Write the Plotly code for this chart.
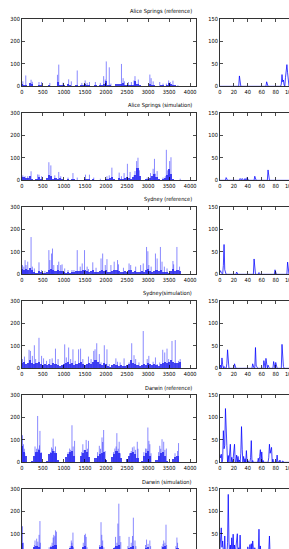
import plotly.graph_objects as go

# ---------------- data ----------------
# Left panels: daily rainfall (mm) over ~3800 days; isolated spikes (day, mm)
as_ref_spikes = [(25,22),(94,48),(220,29),(250,20),(408,19),(470,19),(666,15),(847,51),(878,96),(980,16),
                 (1113,31),(1176,22),(1317,70),(1427,15),(1505,26),(1552,15),(1607,19),(1748,19),(1866,15),(1944,45),
                 (1983,30),(2007,110),(2078,84),(2117,12),(2368,99),(2407,36),(2438,22),(2532,19),(2603,19),(2666,26),
                 (2689,45),(2705,19),(2768,30),(3042,52),(3073,36),(3120,22),(3277,19),(3356,12),(3434,12),(3489,26),
                 (3528,19),(3591,25),(3708,5)]
as_sim_spikes = [(24,22),(78,18),(141,18),(220,40),(376,26),(408,25),(470,18),(643,80),(690,66),(706,15),
                 (784,22),(878,37),(925,18),(1098,12),(1215,32),(1317,12),(1513,25),(1607,25),(1709,12),(1866,7),
                 (2023,18),(2078,22),(2140,56),(2313,34),(2368,18),(2430,32),(2509,73),(2572,37),(2666,22),(2689,41),
                 (2728,85),(2760,100),(2791,44),(2979,12),(3058,32),(3120,51),(3152,95),(3175,29),(3215,41),(3356,12),
                 (3410,18),(3434,135),(3466,44),(3489,29),(3512,85),(3544,102),(3763,7)]
syd_ref_spikes = [(16,41),(47,34),(78,63),(102,41),(141,56),(220,165),(251,34),(298,26),(408,53),(470,19),
                  (549,15),(643,107),(666,63),(706,92),(729,114),(760,41),(847,41),(878,56),(925,41),(957,44),
                  (1019,26),(1098,19),(1192,19),(1239,19),(1317,107),(1388,34),(1435,48),(1490,107),(1552,34),(1584,23),
                  (1686,53),(1764,29),(1882,70),(1921,92),(1983,41),(2023,67),(2117,41),(2195,56),(2274,63),(2297,44),
                  (2415,29),(2548,48),(2587,41),(2705,34),(2823,41),(2885,48),(2964,121),(2995,102),(3018,41),(3073,34),
                  (3175,92),(3215,70),(3293,121),(3332,56),(3387,34),(3450,26),(3591,59),(3607,44),(3685,121),(3748,34)]
syd_sim_spikes = [(16,41),(63,52),(172,82),(204,77),(251,55),(298,102),(329,41),(408,135),(470,55),(517,44),
                  (588,33),(666,41),(721,44),(800,87),(862,41),(980,15),(1019,106),(1058,48),(1113,92),(1160,41),
                  (1215,84),(1270,33),(1349,84),(1396,87),(1450,41),(1584,52),(1646,41),(1709,77),(1740,84),(1780,111),
                  (1842,63),(1882,26),(1960,102),(2023,84),(2078,19),(2235,44),(2274,29),(2336,26),(2430,44),(2548,26),
                  (2611,111),(2666,58),(2705,41),(2783,26),(2885,165),(2979,41),(3018,55),(3120,29),(3175,48),(3215,19),
                  (3277,26),(3348,82),(3395,70),(3450,87),(3489,41),(3568,121),(3646,125),(3724,33),(3763,41)]
dar_ref_spikes = [(16,120),(40,80),(60,60),(70,40),(314,70),(330,40),(350,60),(376,205),(400,60),(420,75),
                  (431,139),(460,45),(680,45),(706,66),(730,60),(745,105),(780,50),(800,70),(820,40),(1100,45),
                  (1137,61),(1160,55),(1192,164),(1220,70),(1254,95),(1420,45),(1450,80),(1480,55),(1529,99),(1560,60),
                  (1584,95),(1800,45),(1842,73),(1870,60),(1905,110),(1920,90),(1944,143),(1980,50),(2180,45),(2211,61),
                  (2240,70),(2258,129),(2290,60),(2313,91),(2340,40),(2560,40),(2600,50),(2627,66),(2666,70),(2700,55),
                  (2744,91),(2760,60),(2900,45),(2940,61),(2970,60),(2995,154),(3020,95),(3042,80),(3070,40),(3250,45),
                  (3277,73),(3300,60),(3332,102),(3371,91),(3400,55),(3434,61),(3640,40),(3700,50),(3724,85)]
dar_sim_spikes = [(16,133),(40,60),(300,50),(314,70),(353,78),(380,65),(410,95),(431,156),(440,60),(650,40),
                  (690,47),(720,60),(745,83),(760,95),(784,89),(800,115),(823,109),(1150,45),(1176,70),(1190,60),
                  (1215,105),(1230,40),(1460,60),(1490,94),(1510,100),(1529,86),(1550,40),(1850,50),(1882,151),(1900,95),
                  (1921,70),(1950,40),(2200,40),(2227,86),(2260,60),(2282,145),(2305,233),(2330,90),(2352,63),(2520,45),
                  (2548,86),(2600,60),(2630,90),(2650,171),(2689,70),(2710,45),(2940,50),(2964,74),(3000,55),(3042,70),
                  (3060,45),(3330,45),(3356,55),(3371,70),(3400,60),(3426,140),(3440,50),(3660,45),(3685,83),(3700,60)]

# Dense low-rain band height (mm), one value per 50-day block starting at day 0
LOW_STEP = 50
as_ref_low = [10,8,5,3,15,12,2,3,8,5,2,2,3,6,2,2,3,20,8,4,6,3,10,6,3,2,5,3,4,6,10,8,5,2,3,4,2,4,6,10,
              25,8,4,2,3,12,12,12,15,6,5,4,5,8,25,10,4,2,2,3,3,10,8,4,2,3,5,4,3,6,15,10,8,4,3,2,0]
as_sim_low = [15,15,12,10,20,5,3,8,15,8,3,2,10,25,20,8,10,8,10,5,3,3,5,3,8,5,3,2,2,3,8,5,8,3,5,2,2,3,2,3,
              5,8,10,15,5,3,10,8,5,10,15,10,8,15,25,55,20,3,3,5,5,10,20,30,15,5,3,5,10,25,50,30,5,3,2,3,0]
syd_ref_low = [25,20,25,20,30,20,10,8,15,10,5,8,12,20,25,20,15,20,15,15,10,8,12,8,10,12,15,15,15,20,
               20,15,12,15,20,12,10,15,20,15,18,10,12,15,20,20,15,10,12,15,12,20,18,12,15,10,12,15,10,20,
               25,15,10,15,20,15,20,12,10,10,8,15,25,15,20,15,0]
syd_sim_low = [25,30,20,25,35,25,20,25,30,20,15,20,15,20,15,25,20,15,10,15,20,25,30,20,25,15,20,25,30,20,
               15,20,25,20,30,35,30,20,15,25,20,10,8,15,20,15,12,15,10,12,15,20,35,25,20,15,10,15,20,15,
               25,20,15,20,15,12,20,25,30,25,30,35,30,25,25,30,0]
dar_ref_low = [70,45,30,0,0,5,30,45,55,40,0,0,5,35,40,50,40,10,0,0,0,25,35,45,50,30,0,0,30,40,
               55,45,25,0,0,20,30,35,40,45,10,0,0,25,35,50,40,20,0,0,15,30,40,45,35,20,0,5,30,40,
               50,30,0,0,10,30,40,45,30,5,0,0,15,25,30,0,0]
dar_sim_low = [60,30,5,0,0,10,40,45,40,20,0,0,10,30,40,45,50,10,0,0,15,25,30,35,45,10,0,5,30,40,
               45,30,5,0,0,10,30,40,45,30,0,0,5,25,35,45,50,30,0,0,20,35,40,45,30,5,0,0,25,35,
               40,30,5,0,0,10,30,40,45,25,0,0,10,30,35,5,0]

# Right panels: first days of each series (day -> mm), zero on other days
as_ref_zoom = {28:23, 67:10, 88:5, 89:26, 90:10, 91:14, 92:3, 94:20, 95:40, 96:48, 97:30}
as_sim_zoom = {9:6, 29:4, 32:4, 36:4, 39:6, 50:9, 69:23, 70:9}
syd_ref_zoom = {0:5, 1:8, 2:3, 5:20, 6:66, 7:10, 24:5, 49:34, 56:4, 79:10, 97:27}
syd_sim_zoom = {1:7, 3:23, 4:8, 6:4, 10:10, 11:41, 12:5, 21:10, 47:10, 48:4, 51:46, 52:5, 53:4, 63:17,
                64:5, 66:22, 67:10, 69:7, 77:15, 78:5, 80:13, 89:53, 90:5, 91:4}
dar_ref_zoom = {0:16, 1:10, 2:18, 4:7, 5:70, 6:30, 7:37, 8:119, 9:40, 10:37, 12:15, 14:20, 15:40, 17:11,
                19:8, 20:25, 21:40, 24:16, 26:13, 28:5, 30:20, 31:79, 32:29, 34:13, 36:8, 38:26, 40:4,
                44:10, 45:48, 47:4, 55:9, 57:13, 58:28, 60:23, 62:4, 70:10, 71:40, 72:20, 73:29, 74:33,
                76:7, 82:16, 84:1, 86:5, 90:3}
dar_sim_zoom = {0:12, 1:30, 2:63, 3:20, 4:34, 5:10, 7:45, 9:11, 11:30, 12:137, 13:34, 15:25, 17:41, 19:49,
                21:25, 23:20, 24:41, 25:50, 27:19, 29:47, 31:8, 40:21, 43:26, 45:28, 47:34, 50:19, 55:10,
                56:60, 58:23, 70:10, 71:45, 73:12}

titles = ["Alice Springs (reference)", "Alice Springs (simulation)", "Sydney (reference)",
          "Sydney(simulation)", "Darwin (reference)", "Darwin (simulation)"]
spikes = [as_ref_spikes, as_sim_spikes, syd_ref_spikes, syd_sim_spikes, dar_ref_spikes, dar_sim_spikes]
lows = [as_ref_low, as_sim_low, syd_ref_low, syd_sim_low, dar_ref_low, dar_sim_low]
zooms = [as_ref_zoom, as_sim_zoom, syd_ref_zoom, syd_sim_zoom, dar_ref_zoom, dar_sim_zoom]

x_ticks_long = [0, 500, 1000, 1500, 2000, 2500, 3000, 3500, 4000]
y_ticks_long = [0, 100, 200, 300]
x_ticks_zoom = [0, 20, 40, 60, 80, 100]
y_ticks_zoom = [0, 50, 100, 150]

# ---------------- layout geometry (pixels) ----------------
W, H = 310, 570
LEFT_X0, LEFT_X1 = 20, 195.7
RIGHT_X0, RIGHT_X1 = 220, 310
TOP0, STEP, PH = 15.7, 95.0, 68.5
LONG_RANGE = [0, 4134]
ZOOM_RANGE = [0, (RIGHT_X1 - RIGHT_X0) / 0.705]

FONT = dict(family="DejaVu Sans Condensed, Liberation Sans Narrow, DejaVu Sans", size=5.6, color="black")
SPIKE_COLOR = "rgba(40,40,255,0.55)"
BAND_COLOR = "rgba(0,0,230,0.72)"
LINE_COLOR = "rgba(0,0,255,0.75)"

fig = go.Figure()
annotations = []

def axis_style(rng, ticks, domain, anchor, labels=True):
    return dict(range=rng, tickvals=ticks, domain=domain, anchor=anchor,
                showline=True, linecolor="black", linewidth=0.8, mirror="ticks",
                ticks="inside", ticklen=3, tickwidth=0.7, tickcolor="black",
                showgrid=False, zeroline=False, tickfont=FONT, fixedrange=True,
                showticklabels=labels)

layout_axes = {}
for i in range(6):
    top = TOP0 + STEP * i
    bot = top + PH
    ydom = [1 - bot / H, 1 - top / H]
    xlabels = i < 5  # bottom row's x labels fall outside the window
    # left panel
    n = 2 * i + 1
    xa, ya = f"x{n}", f"y{n}"
    low = lows[i]
    low_days = [k * LOW_STEP for k in range(len(low))]
    fig.add_trace(go.Bar(x=low_days, y=low, width=LOW_STEP, marker=dict(color=BAND_COLOR, line=dict(width=0)),
                         xaxis=xa, yaxis=ya, hoverinfo="skip", showlegend=False))
    sx, sy = [], []
    for d, v in spikes[i]:
        sx += [d, d, None]
        sy += [0, v, None]
    fig.add_trace(go.Scatter(x=sx, y=sy, mode="lines", line=dict(width=1, color=SPIKE_COLOR),
                             xaxis=xa, yaxis=ya, hoverinfo="skip", showlegend=False))
    layout_axes[f"xaxis{n}"] = axis_style(LONG_RANGE, x_ticks_long, [LEFT_X0 / W, LEFT_X1 / W], ya, xlabels)
    layout_axes[f"yaxis{n}"] = axis_style([0, 300], y_ticks_long, ydom, xa)
    annotations.append(dict(text=titles[i], x=(LEFT_X1 - 2) / W, y=1 - (top - 1.5) / H,
                            xref="paper", yref="paper", xanchor="right", yanchor="bottom",
                            showarrow=False, font=FONT))
    # right panel
    m = 2 * i + 2
    xb, yb = f"x{m}", f"y{m}"
    zd = list(range(0, 121))
    zv = [zooms[i].get(d, 0) for d in zd]
    fig.add_trace(go.Scatter(x=zd, y=zv, mode="lines", line=dict(width=1, color=LINE_COLOR),
                             xaxis=xb, yaxis=yb, hoverinfo="skip", showlegend=False))
    layout_axes[f"xaxis{m}"] = axis_style(ZOOM_RANGE, x_ticks_zoom, [RIGHT_X0 / W, RIGHT_X1 / W], yb, xlabels)
    layout_axes[f"yaxis{m}"] = axis_style([0, 150], y_ticks_zoom, ydom, xb)

fig.update_layout(width=W, height=H, margin=dict(l=0, r=0, t=0, b=0),
                  paper_bgcolor="white", plot_bgcolor="white", bargap=0,
                  annotations=annotations, showlegend=False, **layout_axes)

fig.write_html("out.html", config={"displayModeBar": False, "staticPlot": True},
               post_script="document.body.style.margin='0';document.body.style.overflow='hidden';"
                           "document.documentElement.style.overflow='hidden';")
